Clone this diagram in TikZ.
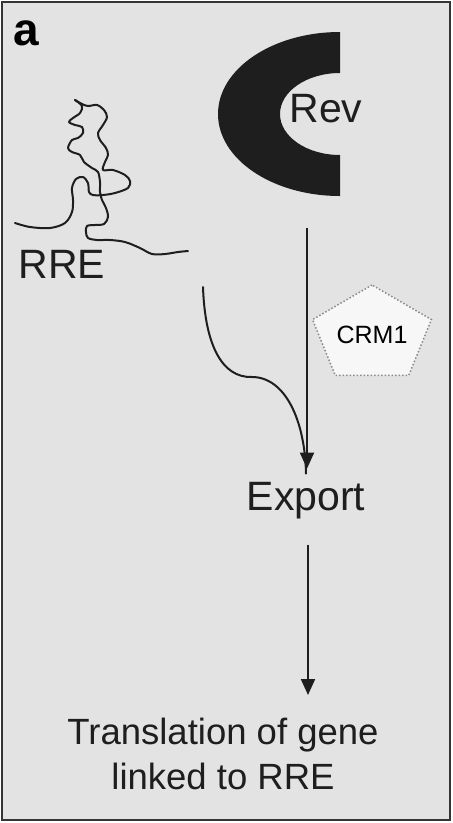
\documentclass[tikz,border=0pt]{standalone}
\usepackage{fontspec}
\setmainfont{Liberation Sans}
\usetikzlibrary{shapes.geometric, arrows.meta}
\definecolor{panelgray}{HTML}{E3E3E3}
\definecolor{inkdark}{HTML}{1E1E1E}
\definecolor{crmfill}{HTML}{F7F7F7}
\definecolor{crmedge}{HTML}{8A8A8A}

\begin{document}
\begin{tikzpicture}[
    x=1pt, y=-1pt,
    lbl/.style={inner sep=0pt, text=inkdark, font=\fontsize{41pt}{49pt}\selectfont},
    crmbox/.style={regular polygon, regular polygon sides=5, minimum size=100pt, xscale=1.25,
        draw=crmedge, dotted, line width=1.5pt, fill=crmfill, inner sep=0pt,
        font=\fontsize{25pt}{30pt}\selectfont},
    conn/.style={draw=inkdark, line width=2pt, -{Triangle[width=14pt,length=16pt]}},
    rna/.style={draw=inkdark, line width=2pt, line cap=round, line join=round}
]
    % Panel
    \fill[white] (0,0) rectangle (453,823);
    \useasboundingbox (0,0) rectangle (453,823);
    \draw[fill=panelgray, draw=inkdark!90, line width=2pt] (2,2) rectangle (450,820);
    \node[inner sep=0pt, font=\fontsize{46pt}{50pt}\selectfont\bfseries, text=black] (tag) at (26,33) {a};

    % Rev protein
    \fill[inkdark] (340,32) arc[start angle=270, end angle=90, x radius=122, y radius=82]
        -- (340,155) arc[start angle=90, end angle=270, x radius=60, y radius=41] -- cycle;
    \node[lbl, anchor=base] (rev) at (326,122) {Rev};

    % RRE
    \draw[rna] plot[smooth, tension=0.55] coordinates {
        (15,223) (30,227) (50,228) (65,223) (72,212) (73,200) (72,188) (76,179)
        (83,177) (88,183) (89,192) (93,195) (103,195) (115,193) (128,188) (130,181)
        (125,175) (113,170) (103,170) (105,162) (108,155) (106,148) (100,140) (98,133)
        (103,125) (107,117) (104,110) (97,105) (88,106) (82,104) (75,100)};
    \draw[rna] plot[smooth, tension=0.55] coordinates {
        (75,100) (82,106) (80,113) (73,118) (69,122) (75,125) (82,127) (83,133)
        (78,138) (72,140) (68,148) (72,152) (80,155) (84,162) (92,168) (98,172)
        (100,182) (100,192) (102,200) (106,208) (108,217) (104,224) (95,225) (87,226)
        (86,232) (88,238) (97,240) (110,240) (125,242) (140,248) (152,254) (165,254)
        (178,252) (188,251)};
    \node[lbl, anchor=base] (rre) at (62,278) {RRE};

    % CRM1
    \node[crmbox] (crm) at (372,335) {\scalebox{0.8}[1]{CRM1}};

    % Steps
    \node[lbl, anchor=base] (export) at (306,510) {Export};
    \node[lbl, anchor=north, align=center, font=\fontsize{36.5pt}{45pt}\selectfont]
        (transl) at (223,718) {Translation of gene\\linked to RRE};

    % Arrows
    \coordinate (revstem) at (307,228);
    \coordinate (rretail) at (203,287);
    \draw[rna] (rretail) .. controls (205,345) and (222,378) .. (252,377)
        .. controls (285,377) and (305,420) .. ([yshift=8pt]export.north);
    \draw[conn, shorten >=13pt] (revstem) -- (revstem |- export.north);
    \draw[conn, shorten <=26pt, shorten >=23pt] ([xshift=2pt]export.south) -- ([xshift=2pt]export.south |- transl.north);
\end{tikzpicture}
\end{document}
